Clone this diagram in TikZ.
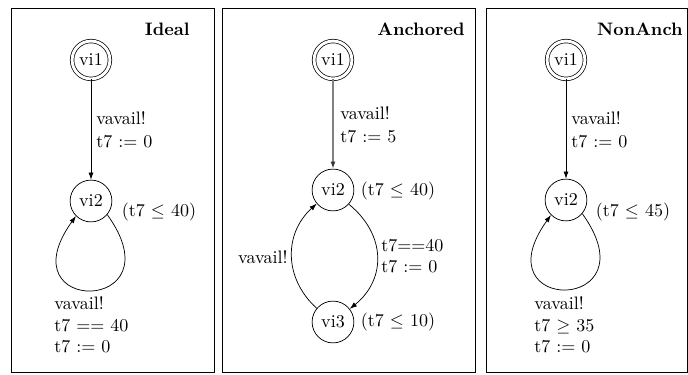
\documentclass[tikz,border=0pt]{standalone}
\usetikzlibrary{arrows.meta,calc}
\tikzset{
  st/.style={circle,draw,minimum size=23.2pt,inner sep=0pt},
  init/.style={circle,draw,double,double distance=1.6pt,minimum size=21pt,inner sep=0pt},
  arr/.style={-{Latex[length=4pt,width=2.8pt]}},
  grayarr/.style={-{Latex[length=4pt,width=2.8pt,black!80]},draw=black!50,line width=1pt},
  lbl/.style={inner sep=0pt,align=left},
  ttl/.style={font=\bfseries,inner sep=0pt,anchor=east},
  frame/.style={draw,line width=0.5pt},
}
\begin{document}
\begin{tikzpicture}[x=0.555pt,y=-0.555pt]
\useasboundingbox (0,0) rectangle (688,375);
% frames
\draw[frame] (11,8) rectangle (214,372);
\draw[frame] (222,8) rectangle (475,372);
\draw[frame] (486,8) rectangle (687,372);

% ---------------- Ideal ----------------
\node[ttl] (ta) at (190,29) {Ideal};
\node[init] (vi1a) at (91,60) {vi1};
\node[st] (vi2a) at (91,201) {vi2};
\draw[arr] (vi1a) -- (vi2a);
\node[lbl,anchor=west] (la1) at (96,130) {vavail!\\[1pt]t7 $:=$ 0};
\node[inner sep=0pt] (inva) at (159,212) {(t7 $\leq$ 40)};
\draw[arr] (vi2a.-40) .. controls ($(vi2a.-40)+(72,100)$) and ($(vi2a.-135)+(-72,100)$) .. (vi2a.-135);
\node[lbl,anchor=west] (la2) at (54,325) {vavail!\\t7 $==$ 40\\t7 $:=$ 0};

% ---------------- Anchored ----------------
\node[ttl] (tb) at (465,29) {Anchored};
\node[init] (vi1b) at (333,60) {vi1};
\node[st] (vi2b) at (333,190) {vi2};
\node[st] (vi3b) at (333,322) {vi3};
\draw[grayarr] (vi1b) -- (vi2b);
\node[lbl,anchor=west] (lb1) at (340,125) {vavail!\\[1pt]t7 $:=$ 5};
\node[inner sep=0pt] (invb2) at (398,191) {(t7 $\leq$ 40)};
\node[inner sep=0pt] (invb3) at (398,322) {(t7 $\leq$ 10)};
\draw[arr] (vi2b.-42) .. controls ($(vi2b.-42)+(37,30)$) and ($(vi3b.38)+(37,-30)$) .. (vi3b.38);
\draw[arr] (vi3b.140) .. controls ($(vi3b.140)+(-33,-30)$) and ($(vi2b.-140)+(-33,30)$) .. (vi2b.-140);
\node[lbl,anchor=east] (lb2) at (288,257) {vavail!};
\node[lbl,anchor=west] (lb3) at (381,256) {t7$==$40\\t7 $:=$ 0};

% ---------------- NonAnch ----------------
\node[ttl] (tc) at (683,29) {NonAnch};
\node[init] (vi1c) at (566,60) {vi1};
\node[st] (vi2c) at (566,200) {vi2};
\draw[arr] (vi1c) -- (vi2c);
\node[lbl,anchor=west] (lc1) at (571,130) {vavail!\\[1pt]t7 $:=$ 0};
\node[inner sep=0pt] (invc) at (633,212) {(t7 $\leq$ 45)};
\draw[arr] (vi2c.-40) .. controls ($(vi2c.-40)+(72,100)$) and ($(vi2c.-135)+(-72,100)$) .. (vi2c.-135);
\node[lbl,anchor=west] (lc2) at (534,325) {vavail!\\t7 $\geq$ 35\\t7 $:=$ 0};
\end{tikzpicture}
\end{document}
